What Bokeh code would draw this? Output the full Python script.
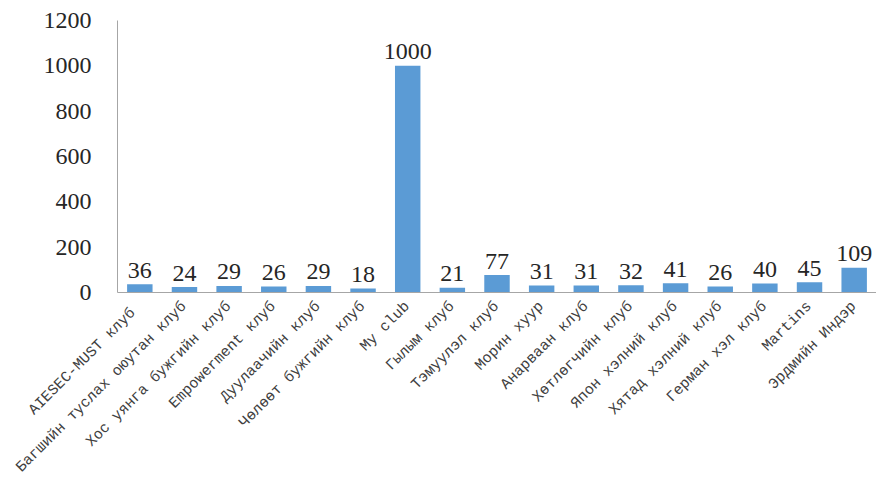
import math
from bokeh.plotting import figure
from bokeh.models import FactorRange, Range1d, FixedTicker, ColumnDataSource
from bokeh.core.properties import value
from bokeh.embed import file_html
from bokeh.resources import INLINE

categories = [
    "AIESEC-MUST  клуб",
    "Багшийн туслах оюутан клуб",
    "Хос уянга бужгийн клуб",
    "Empowerment клуб",
    "Дуулаачийн клуб",
    "Чөлөөт бужгийн клуб",
    "My club",
    "Гылым клуб",
    "Тэмуулэл клуб",
    "Морин хуур",
    "Анарваан клуб",
    "Хөтлөгчийн клуб",
    "Япон хэлний клуб",
    "Хятад хэлний клуб",
    "Герман хэл клуб",
    "Martins",
    "Эрдмийн Индэр",
]
counts = [36, 24, 29, 26, 29, 18, 1000, 21, 77, 31, 31, 32, 41, 26, 40, 45, 109]
y_ticks = [0, 200, 400, 600, 800, 1000, 1200]

SERIF = "Liberation Serif"
MONO = "Liberation Mono"

source = ColumnDataSource(dict(cat=categories, val=counts, lbl=[str(v) for v in counts]))

p = figure(
    x_range=FactorRange(*categories, range_padding=0),
    y_range=Range1d(0, 1200),
    width=876, height=485,
    output_backend="svg", toolbar_location=None,
    min_border_left=117, min_border_right=0, min_border_top=20, min_border_bottom=181,
)
p.outline_line_color = None
p.grid.grid_line_color = None
p.background_fill_color = "white"

p.vbar(x="cat", top="val", width=0.57, source=source, fill_color="#5B9BD5", line_color=None)
p.text(x="cat", y="val", text="lbl", source=source,
       text_font=value(SERIF), text_font_size="24px",
       text_color="#262626", text_align="center", text_baseline="alphabetic",
       y_offset=-14)

yax = p.yaxis[0]
yax.ticker = FixedTicker(ticks=y_ticks)
yax.major_tick_line_color = None
yax.minor_tick_line_color = None
yax.axis_line_color = "#A6A6A6"
yax.major_label_text_font = "serif"
yax.major_label_text_font_style = "normal"
yax.major_label_text_font_size = "24px"
yax.major_label_text_color = "#262626"
yax.major_label_standoff = 20

xax = p.xaxis[0]
xax.major_tick_line_color = None
xax.minor_tick_line_color = None
xax.axis_line_color = "#A6A6A6"
xax.major_label_orientation = math.pi / 4
xax.major_label_text_font = MONO
xax.major_label_text_font_size = "15px"
xax.major_label_text_color = "#404040"
xax.major_label_standoff = 6

open("out.html", "w").write(file_html(p, INLINE))
